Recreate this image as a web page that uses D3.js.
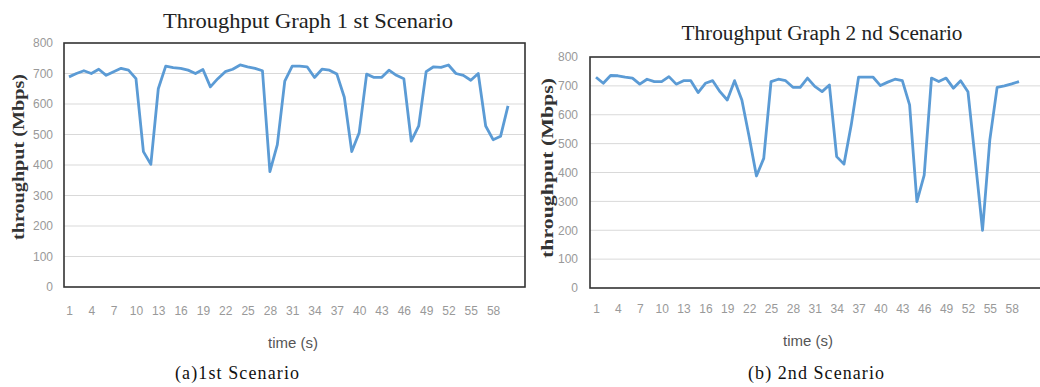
<!DOCTYPE html>
<html>
<head>
<meta charset="utf-8">
<script src="https://cdn.jsdelivr.net/npm/d3@7"></script>
<style>
  body { margin: 0; background: #fff; }
  text { font-family: "Liberation Sans", Arial, sans-serif; }
  .serif { font-family: "Liberation Serif", "Times New Roman", serif; }
</style>
</head>
<body>
<svg width="1040" height="387"></svg>
<script>
// time categories (s)
var times1 = d3.range(1, 61);
var times2 = d3.range(1, 60);
var xTickLabels = [1, 4, 7, 10, 13, 16, 19, 22, 25, 28, 31, 34, 37, 40, 43, 46, 49, 52, 55, 58];
var yTickLabels = [0, 100, 200, 300, 400, 500, 600, 700, 800];

// throughput (Mbps)
var throughput1 = [689, 700, 709, 700, 714, 694, 706, 717, 711, 683,
                   444, 402, 650, 724, 719, 717, 711, 700, 713, 656,
                   683, 706, 714, 728, 722, 717, 709, 378, 467, 675,
                   724, 724, 722, 687, 714, 711, 698, 622, 444, 506,
                   698, 687, 687, 711, 694, 683, 478, 528, 706, 722,
                   720, 728, 700, 694, 678, 700, 528, 483, 494, 594];
var throughput2 = [730, 709, 736, 735, 730, 727, 706, 723, 715, 715,
                   732, 706, 718, 718, 677, 709, 718, 680, 651, 718,
                   651, 524, 388, 449, 715, 723, 718, 695, 695, 727,
                   698, 680, 703, 455, 429, 565, 730, 730, 730, 701,
                   713, 723, 718, 634, 299, 391, 727, 715, 727, 692,
                   718, 680, 443, 200, 513, 695, 700, 707, 715];

var svg = d3.select("svg");

function drawChart(c) {
  var g = svg.append("g");

  var x = d3.scalePoint().domain(c.times).range([c.x0, c.x1]);
  var y = d3.scaleLinear().domain([0, 800]).range([c.bottom, c.top]);

  // gridlines
  g.append("g")
    .selectAll("line").data(yTickLabels.slice(1, -1)).enter().append("line")
      .attr("x1", c.left).attr("x2", c.right)
      .attr("y1", d => y(d)).attr("y2", d => y(d))
      .attr("stroke", "#d9d9d9").attr("stroke-width", 1);

  // frame
  g.append("rect")
      .attr("x", c.left).attr("y", c.top)
      .attr("width", c.right - c.left).attr("height", c.bottom - c.top)
      .attr("fill", "none").attr("stroke", "#333").attr("stroke-width", 1.6);

  // y axis labels
  var yAxis = d3.axisLeft(y).tickValues(yTickLabels).tickSize(0).tickPadding(0);
  g.append("g")
      .attr("transform", "translate(" + c.yLabelX + ",0)")
      .call(yAxis)
      .call(a => a.select(".domain").remove())
      .selectAll("text").attr("fill", "#999").attr("font-size", 12)
      .attr("font-family", "Liberation Sans, Arial, sans-serif");

  // x axis labels
  var xAxis = d3.axisBottom(x).tickValues(xTickLabels).tickSize(0).tickPadding(0);
  g.append("g")
      .attr("transform", "translate(0," + c.xLabelY + ")")
      .call(xAxis)
      .call(a => a.select(".domain").remove())
      .selectAll("text").attr("fill", "#999").attr("font-size", 12)
      .attr("font-family", "Liberation Sans, Arial, sans-serif");

  // line
  var line = d3.line()
      .x((d, i) => x(c.times[i]))
      .y(d => y(d));

  g.append("path")
      .datum(c.values)
      .attr("d", line)
      .attr("fill", "none")
      .attr("stroke", "#5b9bd5")
      .attr("stroke-width", 2.8)
      .attr("stroke-linejoin", "round");

  // title
  g.append("text").attr("class", "serif")
      .attr("x", c.titleX).attr("y", c.titleY)
      .attr("text-anchor", "middle").attr("font-size", c.titleSize)
      .attr("textLength", c.titleLen).attr("lengthAdjust", "spacingAndGlyphs")
      .attr("fill", "#222")
      .text(c.title);

  // y axis title
  g.append("text").attr("class", "serif")
      .attr("transform", "translate(" + c.yTitleX + "," + c.yTitleY + ") rotate(-90)")
      .attr("text-anchor", "middle").attr("font-size", 17).attr("font-weight", "bold")
      .attr("textLength", c.yTitleLen).attr("lengthAdjust", "spacingAndGlyphs")
      .attr("fill", "#333")
      .text("throughput (Mbps)");

  // x axis title
  g.append("text")
      .attr("x", c.xTitleX).attr("y", c.xTitleY)
      .attr("text-anchor", "middle").attr("font-size", 15)
      .attr("fill", "#555")
      .text("time (s)");

  // caption
  g.append("text").attr("class", "serif")
      .attr("x", c.capX).attr("y", c.capY)
      .attr("text-anchor", "middle").attr("font-size", 18)
      .attr("textLength", c.capLen).attr("lengthAdjust", "spacing")
      .attr("fill", "#111")
      .text(c.caption);
}

drawChart({
  times: times1, values: throughput1,
  left: 64, right: 525, top: 43, bottom: 287,
  x0: 69, x1: 508,
  yLabelX: 53, xLabelY: 306,
  title: "Throughput Graph 1 st Scenario", titleX: 308, titleY: 28, titleSize: 21, titleLen: 290,
  yTitleX: 24, yTitleY: 157, yTitleLen: 166,
  xTitleX: 293, xTitleY: 348,
  caption: "(a)1st Scenario", capX: 237, capY: 379, capLen: 124
});

drawChart({
  times: times2, values: throughput2,
  left: 590, right: 1046, top: 57, bottom: 288,
  x0: 596, x1: 1019,
  yLabelX: 578, xLabelY: 304,
  title: "Throughput Graph 2 nd Scenario", titleX: 822, titleY: 40, titleSize: 20, titleLen: 281,
  yTitleX: 553, yTitleY: 168, yTitleLen: 180,
  xTitleX: 808, xTitleY: 346,
  caption: "(b) 2nd Scenario", capX: 816, capY: 379, capLen: 136
});
</script>
</body>
</html>
